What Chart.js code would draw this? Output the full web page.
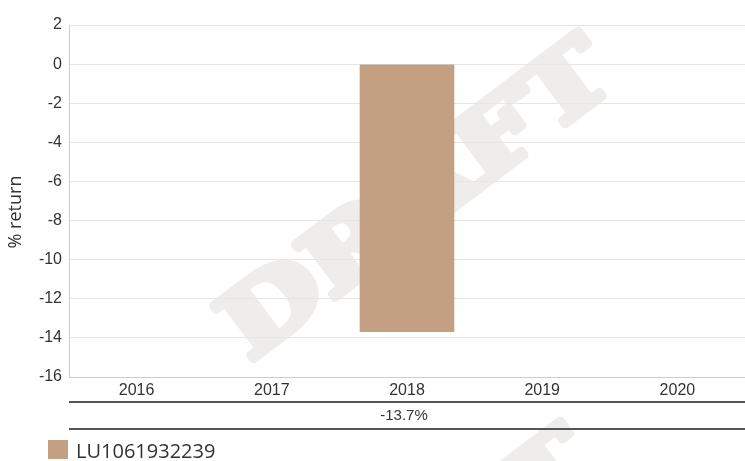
<!DOCTYPE html>
<html>
<head>
<meta charset="utf-8">
<script src="https://cdn.jsdelivr.net/npm/chart.js@4.4.1/dist/chart.umd.min.js"></script>
<style>
  html, body { margin: 0; padding: 0; background: #fff; }
  #wrap { width: 745px; height: 461px; }
</style>
</head>
<body>
<div id="wrap"><canvas id="chart"></canvas></div>
<script>
// data
const years = ['2016', '2017', '2018', '2019', '2020'];
const returns = [null, null, -13.7, null, null];
const fundName = 'LU1061932239';
const yMin = -16;
const yMax = 2;
const yStep = 2;
const axisTitle = '% return';
const watermarkText = 'DRAFT';

const barColor = '#c3a081';
const textColor = '#333333';

// table row under the x axis, built from the returns
const rowLabels = returns.map(v => v === null ? '' : v.toFixed(1) + '%');

const decorations = {
  id: 'decorations',
  beforeDraw(chart) {
    const ctx = chart.ctx;
    ctx.save();
    ctx.fillStyle = '#efedeb';
    ctx.strokeStyle = '#efedeb';
    ctx.lineJoin = 'round';
    ctx.lineWidth = 9;
    ctx.font = 'bold 105px "DejaVu Serif", serif';
    [[250, 362], [232, 752]].forEach(([px, py]) => {
      ctx.save();
      ctx.translate(px, py);
      ctx.rotate(-37 * Math.PI / 180);
      ctx.scale(1.12, 0.88);
      ctx.strokeText(watermarkText, 0, 0);
      ctx.fillText(watermarkText, 0, 0);
      ctx.restore();
    });
    ctx.restore();
  },
  afterDraw(chart) {
    const ctx = chart.ctx;
    const area = chart.chartArea;
    const xs = chart.scales.x;
    ctx.save();

    // table lines
    ctx.strokeStyle = '#555555';
    ctx.lineWidth = 2;
    [area.bottom + 25, area.bottom + 52].forEach(y => {
      ctx.beginPath();
      ctx.moveTo(area.left, y);
      ctx.lineTo(area.right, y);
      ctx.stroke();
    });

    // table values
    ctx.fillStyle = textColor;
    ctx.font = '15px "Liberation Sans", Arial, sans-serif';
    ctx.textAlign = 'center';
    ctx.textBaseline = 'middle';
    rowLabels.forEach((t, i) => {
      if (t) ctx.fillText(t, xs.getPixelForValue(i) - 3, area.bottom + 39);
    });

    // y axis title
    ctx.save();
    ctx.translate(16, 212);
    ctx.rotate(-Math.PI / 2);
    ctx.font = '18px "Open Sans", sans-serif';
    ctx.fillText(axisTitle, 0, 0);
    ctx.restore();

    // legend
    const ds = chart.data.datasets[0];
    ctx.fillStyle = ds.backgroundColor;
    ctx.fillRect(48, 440, 20, 19);
    ctx.fillStyle = textColor;
    ctx.font = '20px "Open Sans", sans-serif';
    ctx.textAlign = 'left';
    ctx.textBaseline = 'alphabetic';
    ctx.fillText(ds.label, 76, 458);

    ctx.restore();
  }
};

new Chart(document.getElementById('chart'), {
  type: 'bar',
  data: {
    labels: years,
    datasets: [{
      label: fundName,
      data: returns,
      backgroundColor: barColor,
      borderWidth: 0,
      barPercentage: 0.7,
      categoryPercentage: 1.0
    }]
  },
  options: {
    responsive: true,
    maintainAspectRatio: false,
    animation: false,
    layout: { padding: { top: 25, right: 0, bottom: 29, left: 0 } },
    plugins: {
      legend: { display: false },
      tooltip: { enabled: false }
    },
    scales: {
      x: {
        grid: { display: false, drawTicks: false },
        border: { color: '#cccccc', width: 1 },
        ticks: {
          color: textColor,
          padding: 4,
          font: { family: '"Liberation Sans", Arial, sans-serif', size: 16 }
        },
        afterFit(scale) { scale.height = 55; }
      },
      y: {
        min: yMin,
        max: yMax,
        grid: { color: '#e6e6e6', drawTicks: false },
        border: { color: '#cccccc', width: 1 },
        ticks: {
          stepSize: yStep,
          color: textColor,
          padding: 7,
          font: { family: '"Liberation Sans", Arial, sans-serif', size: 16 }
        },
        afterFit(scale) { scale.width = 69; }
      }
    }
  },
  plugins: [decorations]
});
</script>
</body>
</html>
